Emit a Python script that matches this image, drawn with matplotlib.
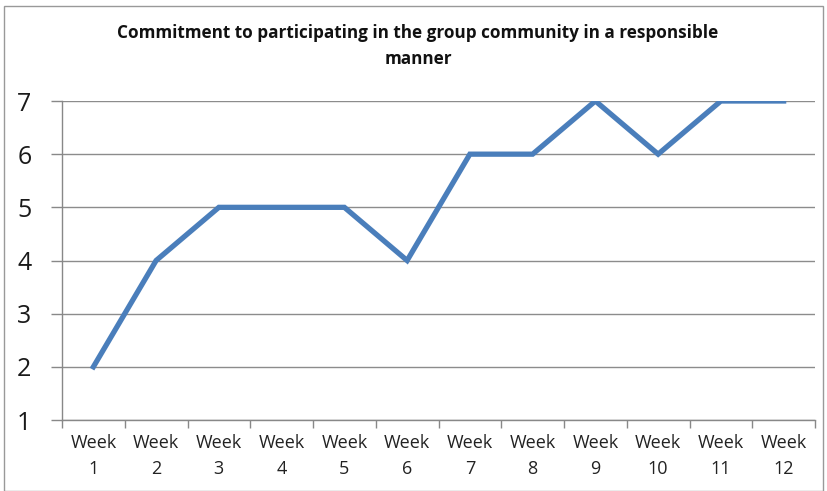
import matplotlib
matplotlib.use("Agg")
import matplotlib.pyplot as plt
from matplotlib.patches import Rectangle

weeks = ["Week\n1", "Week\n2", "Week\n3", "Week\n4", "Week\n5", "Week\n6",
         "Week\n7", "Week\n8", "Week\n9", "Week\n10", "Week\n11", "Week\n12"]
values = [2, 4, 5, 5, 5, 4, 6, 6, 7, 6, 7, 7]
title = "Commitment to participating in the group community in a responsible\nmanner"

plt.rcParams['font.family'] = ['Open Sans', 'DejaVu Sans']

fig = plt.figure(figsize=(8.27, 4.91), dpi=100)
ax = fig.add_axes([62/827, 1-420/491, (815-62)/827, (420-101)/491])

x = list(range(len(values)))
ax.plot(x, values, color="#4A7EBB", linewidth=3.8, solid_joinstyle="miter")

ax.set_xlim(-0.5, len(values)-0.5)
ax.set_ylim(1, 7)
ax.set_yticks(range(1, 8))
ax.set_yticklabels([str(v) for v in range(1, 8)], fontsize=18, color="#1a1a1a")
ax.set_xticks(x)
ax.set_xticklabels(weeks, fontsize=13, color="#222222", linespacing=1.6)
ax.set_xticks([i - 0.5 for i in range(len(values)+1)], minor=True)
ax.tick_params(axis='x', which='major', length=0, pad=10)
ax.tick_params(axis='x', which='minor', length=6, color="#888888", width=1)
ax.tick_params(axis='y', length=8, color="#888888", width=1, pad=14)

ax.grid(axis='y', color="#8c8c8c", linewidth=1)
ax.set_axisbelow(True)
for s in ["top", "right"]:
    ax.spines[s].set_visible(False)
for s in ["left", "bottom"]:
    ax.spines[s].set_color("#888888")
    ax.spines[s].set_linewidth(1)

fig.text(418/827, 1-46/491, title, ha="center", va="center", fontsize=12.3,
         fontweight="bold", linespacing=1.6, color="#111111")

fig.patches.append(Rectangle((4/827, 0), 1-8/827, 1-6/491, transform=fig.transFigure,
                             fill=False, edgecolor="#999999", linewidth=1))

fig.savefig("out.png", dpi=100)
